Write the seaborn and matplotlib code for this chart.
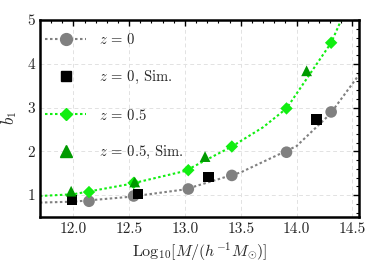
import numpy as np
import matplotlib
matplotlib.use("Agg")
import matplotlib.pyplot as plt
import seaborn as sns
from matplotlib.ticker import MultipleLocator

sns.set_theme(style="white")
plt.rcParams["font.family"] = ["cmr10", "DejaVu Serif"]
plt.rcParams["mathtext.fontset"] = "cm"
plt.rcParams["axes.formatter.use_mathtext"] = True

# --- data ---
# theory points
logm_th = [12.14, 12.54, 13.03, 13.42, 13.91, 14.31]
b1_z0 = [0.86, 0.98, 1.14, 1.45, 1.98, 2.90]
b1_z05 = [1.07, 1.28, 1.57, 2.11, 2.98, 4.48]

# simulation points
logm_sim0 = [11.99, 12.58, 13.21, 14.18]
b1_sim0 = [0.89, 1.02, 1.41, 2.73]
logm_sim05 = [11.98, 12.55, 13.18, 14.09]
b1_sim05 = [1.09, 1.30, 1.88, 3.84]

# smooth curves (dotted)
curve_x0 = [11.70, 12.00, 12.50, 13.00, 13.50, 14.00, 14.30, 14.56]
curve_y0 = [0.83, 0.85, 0.96, 1.13, 1.52, 2.12, 2.85, 3.75]
curve_x05 = [11.70, 12.00, 12.50, 13.00, 13.42, 13.70, 13.91, 14.31, 14.40]
curve_y05 = [0.98, 1.02, 1.25, 1.55, 2.11, 2.55, 2.98, 4.48, 5.00]

gray = "#808080"
lime = "#11ee11"
dgreen = "#009a00"

fig = plt.figure(figsize=(3.66, 2.74), dpi=100)
ax = fig.add_axes([0.109, 0.208, 0.872, 0.719])

ax.plot(curve_x0, curve_y0, ls=(0, (1.2, 1.2)), color=gray, lw=1.5, zorder=2)
ax.plot(curve_x05, curve_y05, ls=(0, (1.2, 1.2)), color=lime, lw=1.5, zorder=2)

sns.scatterplot(x=logm_th, y=b1_z0, ax=ax, marker="o", s=70, color=gray,
                edgecolor="none", zorder=3)
sns.scatterplot(x=logm_sim0, y=b1_sim0, ax=ax, marker="s", s=55, color="black",
                edgecolor="none", zorder=4)
sns.scatterplot(x=logm_th, y=b1_z05, ax=ax, marker="D", s=40, color=lime,
                edgecolor="none", zorder=3)
sns.scatterplot(x=logm_sim05, y=b1_sim05, ax=ax, marker="^", s=60, color=dgreen,
                edgecolor="none", zorder=4)

# legend proxies
h0, = ax.plot([], [], ls=(0, (1.2, 1.2)), color=gray, lw=1.5, marker="o", ms=8.5)
h1, = ax.plot([], [], ls="none", color="black", marker="s", ms=7.5)
h2, = ax.plot([], [], ls=(0, (1.2, 1.2)), color=lime, lw=1.5, marker="D", ms=6.5)
h3, = ax.plot([], [], ls="none", color=dgreen, marker="^", ms=8)
ax.legend([h0, h1, h2, h3],
          [r"$z$ = 0", r"$z$ = 0, Sim.", r"$z$ = 0.5", r"$z$ = 0.5, Sim."],
          loc="upper left", frameon=False, fontsize=10.5, labelspacing=1.5,
          handlelength=2.8, handletextpad=0.9, borderaxespad=0.2,
          bbox_to_anchor=(-0.01, 0.985))

ax.set_xlim(11.7, 14.56)
ax.set_ylim(0.5, 5)
ax.xaxis.set_major_locator(MultipleLocator(0.5))
ax.xaxis.set_minor_locator(MultipleLocator(0.1))
ax.yaxis.set_major_locator(MultipleLocator(1))
ax.yaxis.set_minor_locator(MultipleLocator(0.2))
ax.xaxis.set_major_formatter(plt.FuncFormatter(lambda v, _: f"{v:.1f}"))
ax.yaxis.set_major_formatter(plt.FuncFormatter(lambda v, _: f"{v:.0f}"))
ax.tick_params(which="both", direction="in", top=True, right=True, color="black")
ax.tick_params(which="major", length=4, width=1, labelsize=11)
ax.tick_params(which="minor", length=2, width=0.8)
ax.grid(True, which="major", ls=(0, (4, 3)), color="#e2e2e2", lw=0.7)
for sp in ax.spines.values():
    sp.set_color("black")
    sp.set_linewidth(1.8)

ax.set_xlabel(r"Log$_{10}[M/(h^{-1}M_{\odot})]$", fontsize=11.5, labelpad=4)
ax.set_ylabel(r"$b_1$", fontsize=12, labelpad=6)

fig.savefig("out.png", dpi=100)
